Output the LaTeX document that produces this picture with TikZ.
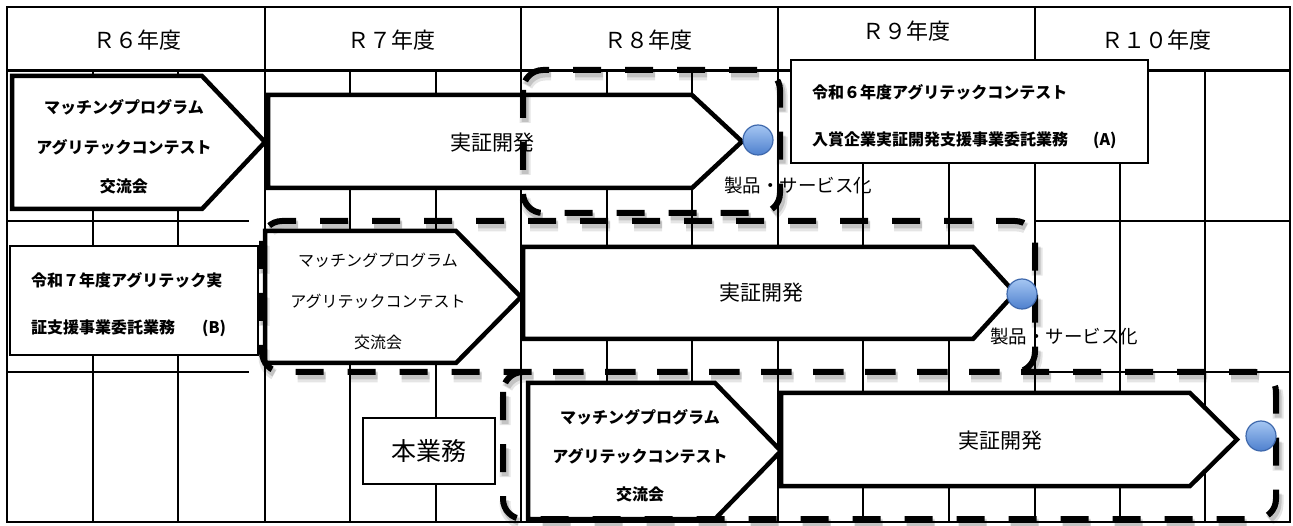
\documentclass[tikz,border=0pt]{standalone}
\usepackage{fontspec}
\setmainfont{Noto Sans CJK JP}
\definecolor{goaltop}{RGB}{165,198,242}
\definecolor{goalbot}{RGB}{78,128,206}
\definecolor{goalline}{RGB}{62,104,172}

\begin{document}
\begin{tikzpicture}[x=1pt,y=-1pt,
    grid/.style={line width=2.2pt},
    flow/.style={draw,fill=white,line width=4.5pt},
    memo/.style={draw,fill=white,line width=1.6pt},
    phase/.style={line width=6pt,rounded corners=20pt,dash pattern=on 28pt off 24pt},
    goal/.style={circle,minimum size=30pt,inner sep=0pt,draw=goalline,line width=1.2pt,top color=goaltop,bottom color=goalbot},
    year/.style={font=\fontsize{22}{22}\selectfont},
    boldlines/.style={align=center,inner sep=0pt,font=\bfseries\fontsize{16}{39.5}\selectfont},
    thinlines/.style={align=center,inner sep=0pt,font=\fontsize{16}{41}\selectfont},
    devtext/.style={inner sep=0pt,font=\fontsize{21}{21}\selectfont},
    prodtext/.style={inner sep=0pt,font=\fontsize{18.5}{18.5}\selectfont},
    memotext/.style={align=left,anchor=west,inner sep=0pt,font=\bfseries\fontsize{16}{47}\selectfont}
  ]
\useasboundingbox (0,0) rectangle (1293,526);

\draw[grid] (7,7) rectangle (1290,522);
\draw[line width=3pt] (7,71) -- (1290,71);
\draw[grid] (7,221) -- (249,221) (1035,221) -- (1290,221);
\draw[grid] (7,372) -- (249,372) (1035,372) -- (1290,372);
\foreach \x in {265,521,778,1035}
  \draw[grid] (\x,7) -- (\x,71);
\foreach \x in {93,178,265,350,436,521,607,692,778,863,949,1035,1120,1205}
  \draw[grid] (\x,71) -- (\x,522);

\draw[flow] (12,76) -- (202,76) -- (265,142) -- (202,209) -- (12,209) -- cycle;
\draw[flow] (268,95) -- (692,95) -- (742,141.5) -- (692,188) -- (268,188) -- cycle;
\draw[flow] (265,231) -- (456,231) -- (521,297) -- (456,363) -- (265,363) -- cycle;
\draw[flow] (523,247) -- (973,247) -- (1015,293) -- (973,339) -- (523,339) -- cycle;
\draw[flow] (528,383) -- (715,383) -- (781,451) -- (715,519) -- (528,519) -- cycle;
\draw[flow] (781,393) -- (1190,393) -- (1237,439.5) -- (1190,486) -- (781,486) -- cycle;

\draw[memo] (791,60) rectangle (1148,163);
\draw[memo] (10,246) rectangle (258,355);
\node[memo,minimum width=132pt,minimum height=66pt,font=\fontsize{25}{25}\selectfont] (main) at (429,451) {本業務};

\draw[phase,black,opacity=0.10,line width=11pt,shift={(2,5)}] (523,70) rectangle (780,213) (262,221) rectangle (1035,372) (503,372) rectangle (1276,519);
\draw[phase,black,opacity=0.15,line width=7pt,shift={(2,4)}] (523,70) rectangle (780,213) (262,221) rectangle (1035,372) (503,372) rectangle (1276,519);
\draw[phase] (523,70) rectangle (780,213) (262,221) rectangle (1035,372) (503,372) rectangle (1276,519);

\node[goal] (goal1) at (758,140) {};
\node[goal] (goal2) at (1022,294) {};
\node[goal] (goal3) at (1261,436) {};

\node[year] (r6) at (137,40) {Ｒ６年度};
\node[year] (r7) at (391,40) {Ｒ７年度};
\node[year] (r8) at (648,40) {Ｒ８年度};
\node[year] (r9) at (906,31) {Ｒ９年度};
\node[year] (r10) at (1156,40) {Ｒ１０年度};

\node[boldlines] (match1) at (124,147) {マッチングプログラム\\アグリテックコンテスト\\交流会};
\node[thinlines] (match2) at (378,301) {マッチングプログラム\\アグリテックコンテスト\\交流会};
\node[boldlines,font=\bfseries\fontsize{16}{38.5}\selectfont] (match3) at (640,456) {マッチングプログラム\\アグリテックコンテスト\\交流会};

\node[devtext] (dev1) at (492,143) {実証開発};
\node[devtext] (dev2) at (761,293) {実証開発};
\node[devtext] (dev3) at (1000,441) {実証開発};

\node[prodtext] (prod1) at (798,185) {製品・サービス化};
\node[prodtext] (prod2) at (1064,336) {製品・サービス化};

\node[memotext] (memoA) at (812,116.5) {令和６年度アグリテックコンテスト\\入賞企業実証開発支援事業委託業務\hspace{25pt}(A)};
\node[memotext] (memoB) at (31,305) {令和７年度アグリテック実\\証支援事業委託業務\hspace{27pt}(B)};
\end{tikzpicture}
\end{document}
